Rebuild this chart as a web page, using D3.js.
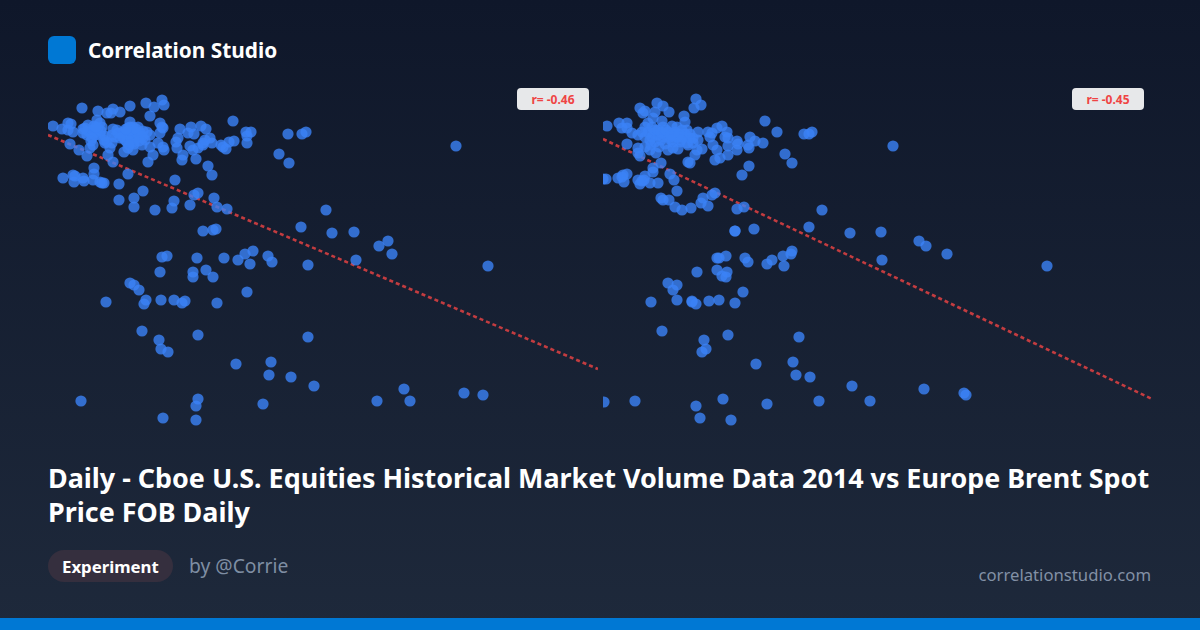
<!DOCTYPE html>
<html>
<head>
<meta charset="utf-8">
<script src="https://cdn.jsdelivr.net/npm/d3@7"></script>
<style>
  html, body { margin: 0; padding: 0; background: #0f172a; }
  svg { display: block; font-family: "Noto Sans", sans-serif; }
</style>
</head>
<body>
<script>
// both panels are unlabelled, so values are normalised scores: [x, y]
var leftPoints = [
  [5,302],[14,299],[20,305],[23,304],[20,298],[25,296],[34,320],[50,317],[59,315],[65,319],[63,315],[72,316],
  [82,322],[98,325],[106,321],[114,328],[116,323],[102,312],[112,305],[114,301],[115,300],[112,295],[82,306],
  [49,308],[52,305],[50,300],[54,301],[37,300],[39,293],[42,296],[35,295],[47,293],[52,293],[65,299],[69,298],
  [64,293],[67,291],[59,286],[64,285],[62,280],[60,273],[65,266],[57,285],[82,301],[90,301],[79,296],[85,296],
  [92,295],[99,296],[102,293],[75,291],[82,291],[89,290],[79,286],[85,286],[80,280],[85,278],[76,276],[94,283],
  [102,281],[105,273],[100,266],[110,285],[115,281],[116,278],[22,284],[31,278],[39,272],[42,280],[45,283],
  [132,299],[143,301],[153,302],[158,299],[146,294],[140,295],[130,290],[128,286],[129,280],[135,273],[134,268],
  [142,282],[145,278],[150,280],[148,269],[155,285],[162,290],[157,288],[164,285],[155,283],[160,262],[164,253],
  [173,283],[175,281],[178,279],[181,286],[186,287],[185,307],[198,296],[203,296],[199,292],[199,285],[240,294],
  [254,294],[258,296],[231,274],[241,265],
  [15,250],[25,253],[27,252],[26,246],[35,250],[36,247],[46,260],[46,254],[45,248],[52,246],[54,245],[56,245],
  [80,254],[71,244],[127,248],[95,237],[71,228],[86,230],[86,221],[107,218],[126,227],[124,220],[142,223],
  [146,233],[150,235],[166,230],[169,221],[179,219],
  [155,197],[165,198],[168,199],[253,201],[114,171],[119,172],[149,170],[176,170],[190,168],[197,174],[205,177],
  [202,164],[220,172],[224,166],[260,163],[112,156],[145,156],[145,151],[158,158],[165,151],[82,145],[86,143],
  [91,138],[98,128],[96,124],[113,128],[126,128],[134,125],[137,127],[58,126],[169,125],[199,136],[94,97],
  [111,88],[113,79],[120,76],[150,93],[260,91],[188,64],[223,66],[221,53],[243,51],[266,42],[33,27],[150,29],
  [148,22],[215,24],[115,10],[148,8],
  [408,282],[278,218],[284,195],[306,196],[331,182],[340,187],[344,174],[308,168],[440,162],[356,39],[329,27],
  [362,27],[416,35],[435,33],
  // dense middle of the top cluster
  [70,295],[75,296],[78,293],[83,294],[87,293],[77,288],[83,288],[88,296],[72,290],[40,297],[45,298],[48,296],
  [44,290],[85,301],[80,300],[95,290],[95,297],[82,298],[88,299],[94,292],[86,284],[91,287],[78,299],[97,288],
  [81,283],[40,303],[46,302],[43,287],[53,297],[57,292],[48,301],[35,299],[56,288]
];
var rightPoints = [
  [4,302],[16,305],[24,305],[19,300],[24,300],[29,295],[37,320],[42,317],[40,315],[54,325],[60,322],[52,316],
  [66,316],[93,329],[98,323],[91,320],[81,312],[50,310],[59,307],[82,306],[45,305],[42,301],[49,301],[39,296],
  [45,296],[52,298],[35,293],[42,291],[49,291],[60,301],[69,302],[74,301],[65,296],[72,296],[79,298],[84,298],
  [60,291],[67,291],[74,291],[80,291],[87,290],[70,286],[77,286],[84,285],[90,285],[65,278],[75,279],[94,278],
  [99,279],[85,283],[95,296],[92,273],[87,265],[85,266],[24,284],[35,280],[35,275],[37,272],[48,283],[53,275],
  [47,278],[42,281],[58,265],[50,260],[50,256],
  [105,296],[109,295],[107,291],[119,302],[114,300],[124,296],[122,291],[125,290],[110,283],[114,278],[125,282],
  [125,273],[134,287],[134,278],[135,284],[117,270],[112,268],[147,291],[145,283],[146,280],[152,287],[160,285],
  [146,262],[139,253],[162,307],[174,296],[201,294],[209,296],[206,294],[182,274],[189,265],[219,218],
  [0,249],[3,249],[15,250],[20,253],[24,254],[19,251],[21,246],[35,248],[42,252],[41,248],[37,244],[39,247],
  [47,245],[55,245],[67,254],[71,248],[74,237],[58,230],[60,228],[66,228],[72,221],[79,218],[88,220],[98,225],
  [100,230],[105,222],[109,233],[112,235],[134,219],[141,221],
  [1,26],[132,197],[132,197],[151,199],[206,201],[247,195],[114,170],[116,170],[123,172],[142,170],[145,166],
  [164,164],[169,168],[180,172],[189,177],[188,174],[181,162],[94,156],[114,158],[124,156],[119,152],[123,151],
  [65,145],[74,143],[70,138],[74,128],[48,126],[89,127],[89,126],[93,124],[106,127],[116,128],[132,125],[140,136],
  [59,97],[101,88],[103,79],[99,76],[125,93],[196,91],[153,64],[190,66],[193,53],[207,51],[249,42],[32,27],
  [93,22],[120,29],[164,24],[216,27],[267,27],[97,10],[128,8],
  [290,282],[278,196],[316,187],[323,182],[344,174],[279,168],[444,162],[321,39],[361,35],[363,33],
  // dense middle of the top cluster
  [50,295],[55,293],[55,298],[58,296],[62,294],[47,288],[52,286],[58,288],[63,298],[68,293],[72,294],[76,294],
  [82,294],[87,294],[78,288],[68,288],[62,284],[56,281],[70,280],[90,290],[95,288]
];
var leftTrend = [[0,293],[550,59]];
var rightTrend = [[0,289],[549,29]];
var correlations = ["r= -0.46", "r= -0.45"];
var titleLines = [
  "Daily - Cboe U.S. Equities Historical Market Volume Data 2014 vs Europe Brent Spot",
  "Price FOB Daily"
];

var svg = d3.select("body").append("svg")
    .attr("width", 1200)
    .attr("height", 630);

var defs = svg.append("defs");
var grad = defs.append("linearGradient")
    .attr("id", "bg")
    .attr("x1", 0).attr("y1", 0).attr("x2", 0).attr("y2", 1);
grad.append("stop").attr("offset", "0%").attr("stop-color", "#0f172a");
grad.append("stop").attr("offset", "100%").attr("stop-color", "#1e293b");

svg.append("rect")
    .attr("width", 1200)
    .attr("height", 630)
    .attr("fill", "url(#bg)");

var y = d3.scaleLinear().domain([0, 340]).range([428, 88]);

function panel(id, left, width, points, trend, label) {
  var x = d3.scaleLinear().domain([0, width]).range([left, left + width]);

  defs.append("clipPath")
      .attr("id", id)
    .append("rect")
      .attr("x", left)
      .attr("y", 88)
      .attr("width", width)
      .attr("height", 340);

  var g = svg.append("g").attr("clip-path", "url(#" + id + ")");

  g.append("line")
      .attr("x1", x(trend[0][0]))
      .attr("y1", y(trend[0][1]))
      .attr("x2", x(trend[1][0]))
      .attr("y2", y(trend[1][1]))
      .attr("stroke", "#ef4444")
      .attr("stroke-opacity", 0.8)
      .attr("stroke-width", 2.6)
      .attr("stroke-dasharray", "4,3");

  g.selectAll(".dot")
    .data(points)
    .enter().append("circle")
      .attr("class", "dot")
      .attr("cx", function(d) { return x(d[0]); })
      .attr("cy", function(d) { return y(d[1]); })
      .attr("r", 5.6)
      .attr("fill", "#3b82f6")
      .attr("fill-opacity", 0.8);

  // badge sits in the top right corner of the panel
  var bx = left + 469;
  svg.append("rect")
      .attr("x", bx)
      .attr("y", 88)
      .attr("width", 72)
      .attr("height", 22)
      .attr("rx", 4)
      .attr("fill", "#ffffff")
      .attr("fill-opacity", 0.9);
  svg.append("text")
      .attr("x", bx + 36)
      .attr("y", 103.5)
      .attr("text-anchor", "middle")
      .attr("font-size", 12)
      .attr("font-weight", 700)
      .attr("fill", "#ef4444")
      .text(label);
}

panel("clip-left", 48, 550, leftPoints, leftTrend, correlations[0]);
panel("clip-right", 603, 549, rightPoints, rightTrend, correlations[1]);

// header
svg.append("rect")
    .attr("x", 48).attr("y", 36)
    .attr("width", 28).attr("height", 28)
    .attr("rx", 6)
    .attr("fill", "#0078d4");
svg.append("text")
    .attr("x", 88).attr("y", 58)
    .attr("font-size", 20.8)
    .attr("font-weight", 700)
    .attr("fill", "#ffffff")
    .text("Correlation Studio");

// title
svg.selectAll(".title")
  .data(titleLines)
  .enter().append("text")
    .attr("class", "title")
    .attr("x", 48)
    .attr("y", function(d, i) { return 488 + i * 34; })
    .attr("font-size", 26.9)
    .attr("font-weight", 700)
    .attr("fill", "#ffffff")
    .text(function(d) { return d; });

// footer
svg.append("rect")
    .attr("x", 48).attr("y", 550)
    .attr("width", 125).attr("height", 32)
    .attr("rx", 16)
    .attr("fill", "#352f3e");
svg.append("text")
    .attr("x", 62).attr("y", 573)
    .attr("font-size", 16.8)
    .attr("font-weight", 700)
    .attr("fill", "#ffffff")
    .text("Experiment");
svg.append("text")
    .attr("x", 189).attr("y", 573)
    .attr("font-size", 19.3)
    .attr("fill", "#7f8ea3")
    .text("by @Corrie");
svg.append("text")
    .attr("x", 1151).attr("y", 581)
    .attr("text-anchor", "end")
    .attr("font-size", 16.7)
    .attr("fill", "#8290a5")
    .text("correlationstudio.com");

svg.append("rect")
    .attr("x", 0).attr("y", 618)
    .attr("width", 1200).attr("height", 12)
    .attr("fill", "#0078d4");
</script>
</body>
</html>
